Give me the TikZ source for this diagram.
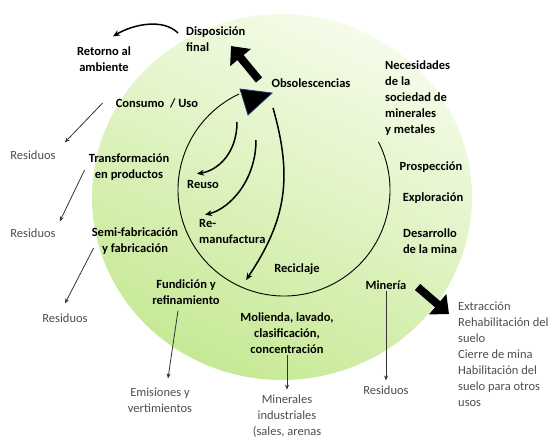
\documentclass[tikz,border=0pt]{standalone}
\usepackage{fontspec}
\setmainfont{Carlito}
\usetikzlibrary{arrows.meta}

\definecolor{verdeclaro}{HTML}{F5FCEA}
\definecolor{verde}{HTML}{C6E995}
\definecolor{gristexto}{HTML}{4D4D4D}
\definecolor{azulpunta}{HTML}{1F3A6B}

\begin{document}
\begin{tikzpicture}[x=1pt, y=-1pt,
    every node/.style={inner sep=1pt, font=\fontsize{12.5}{16}\selectfont},
    etapa/.style={font=\fontsize{12.5}{16}\selectfont\bfseries, align=center},
    salida/.style={text=gristexto, align=center}, % productos y residuos
    flecha/.style={draw=black!80, line width=0.8pt, -{Stealth[length=5pt, width=4pt]}},
    curva/.style={line width=1.5pt, -{Stealth[length=7pt, width=6pt]}},
    bloque/.style={line width=8pt, -{Triangle[length=15pt, width=26pt]}}
]
\useasboundingbox (0,0) rectangle (554,440);

% circulo grande y ciclo interior
\shade[top color=verdeclaro, bottom color=verde, shading angle=-25] (282,197) ellipse[x radius=190, y radius=183];
\coordinate (centro) at (284,190);
\draw[line width=0.9pt] (centro) ++(27:106pt) arc[start angle=27, end angle=-245, radius=106pt];
\filldraw[fill=black, draw=azulpunta, line width=0.8pt] (240,89) -- (272,93) -- (248,115) -- cycle;
\coordinate (punta) at (253,99);
\coordinate (haciadisp) at (231,46);
\coordinate (haciafuera) at (449,314);

% etapas
\node[etapa, anchor=west, align=left] (disposicion) at (185,39) {Disposición\\final};
\node[etapa] (retorno) at (104,59) {Retorno al\\ambiente};
\node[etapa] (obsolescencias) at (311,83) {Obsolescencias};
\node[etapa, anchor=west, align=left] (necesidades) at (384,98) {Necesidades\\de la\\sociedad de\\minerales\\y metales};
\node[etapa] (prospeccion) at (431,167) {Prospección};
\node[etapa] (exploracion) at (433,198) {Exploración};
\node[etapa] (desarrollo) at (430,241) {Desarrollo\\de la mina};
\node[etapa] (mineria) at (386,285) {Minería};
\node[etapa] (molienda) at (287,333) {Molienda, lavado,\\clasificación,\\concentración};
\node[etapa] (fundicion) at (186,292) {Fundición y\\refinamiento};
\node[etapa] (semifab) at (135,241) {Semi-fabricación\\y fabricación};
\node[etapa] (transformacion) at (129,167) {Transformación\\en productos};
\node[etapa] (consumo) at (157,103) {Consumo~ / Uso};
\node[etapa] (reuso) at (203,184) {Reuso};
\node[etapa, anchor=west, align=left] (remanufactura) at (198,231) {Re-\\manufactura};
\node[etapa] (reciclaje) at (297,269) {Reciclaje};

% salidas
\node[salida] (residuos1) at (33,155) {Residuos};
\node[salida] (residuos2) at (33,233) {Residuos};
\node[salida] (residuos3) at (65,318) {Residuos};
\node[salida] (residuos4) at (386,390) {Residuos};
\node[salida] (emisiones) at (160,400) {Emisiones y\\vertimientos};
\node[salida] (minerales) at (287,416) {Minerales\\industriales\\(sales, arenas};
\node[salida, anchor=west, align=left] (extraccion) at (457,354) {Extracción\\Rehabilitación del\\suelo\\Cierre de mina\\Habilitación del\\suelo para otros\\usos};

% flechas
\draw[bloque] ([shift={(6,-19)}]punta) -- (haciadisp);
\draw[bloque] ([shift={(10,2)}]mineria.east) -- (haciafuera);
\draw[curva] ([shift={(-7,-6)}]disposicion.west) .. controls +(-15,-15) and +(20,-12) .. ([shift={(9,-9)}]retorno.north);
\draw[curva] ([shift={(-16,23)}]punta) .. controls +(0,32) and +(20,-3) .. ([shift={(-6,-5)}]reuso.north);
\draw[curva] ([shift={(3,41)}]punta) .. controls +(0,40) and +(25,-6) .. ([shift={(7,-3)}]remanufactura.north west);
\draw[curva] ([shift={(20,9)}]punta) .. controls +(20,70) and +(40,-60) .. ([shift={(-27,11)}]reciclaje.west);
\draw[flecha] ([shift={(-12,0)}]consumo.west) -- ([shift={(8,-7)}]residuos1.north east);
\draw[flecha] ([shift={(-3,3)}]transformacion.west) -- ([shift={(3,-6)}]residuos2.north east);
\draw[flecha] ([shift={(3,7)}]semifab.west) -- ([shift={(0,-9)}]residuos3.north);
\draw[flecha] ([shift={(-8,5)}]fundicion.south) -- ([shift={(8,-8)}]emisiones.north);
\draw[flecha] (molienda.south) -- ([shift={(0,-4)}]minerales.north);
\draw[flecha] (mineria.south) -- ([shift={(0,-4)}]residuos4.north);

\end{tikzpicture}
\end{document}
